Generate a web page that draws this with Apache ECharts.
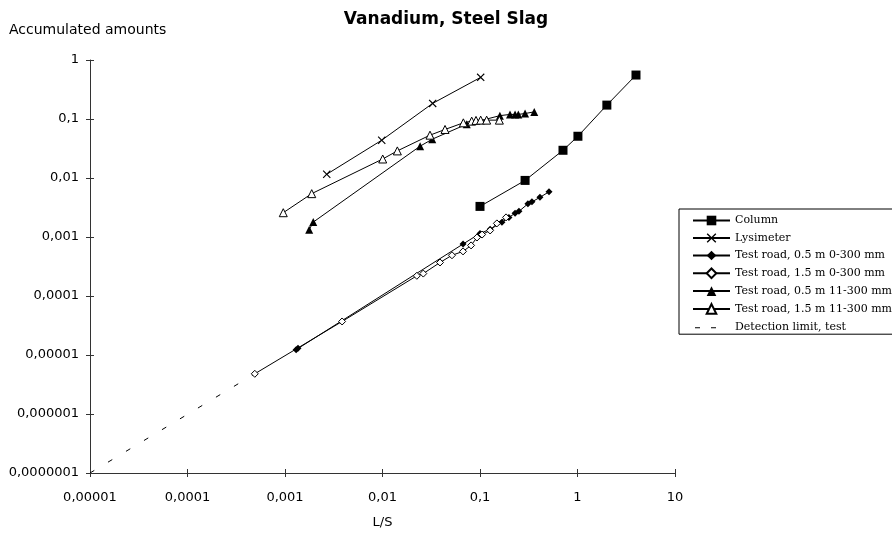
<!DOCTYPE html>
<html>
<head>
<meta charset="utf-8">
<script src="https://cdn.jsdelivr.net/npm/echarts@6/dist/echarts.min.js"></script>
<style>html,body{margin:0;padding:0;background:#fff;}#c{width:892px;height:534px;}</style>
</head>
<body>
<div id="c"></div>
<script>
const xTickLabels = ['0,00001','0,0001','0,001','0,01','0,1','1','10'];
const yTickLabels = ['0,0000001','0,000001','0,00001','0,0001','0,001','0,01','0,1','1'];

const seriesNames = ['Column','Lysimeter','Test road, 0.5 m 0-300 mm','Test road, 1.5 m 0-300 mm','Test road, 0.5 m 11-300 mm','Test road, 1.5 m 11-300 mm','Detection limit, test'];

const columnX = [0.1, 0.29, 0.71, 1.01, 2.0, 3.98];
const columnY = [0.0033, 0.0091, 0.0295, 0.051, 0.172, 0.556];

const lysX = [0.00268, 0.00982, 0.0327, 0.1016];
const lysY = [0.01156, 0.0437, 0.184, 0.508];

const road05aX = [0.0013, 0.00136, 0.067, 0.1, 0.127, 0.168, 0.198, 0.229, 0.251, 0.31, 0.341, 0.412, 0.51];
const road05aY = [1.23e-5, 1.3e-5, 7.6e-4, 1.15e-3, 1.35e-3, 1.77e-3, 2.15e-3, 2.52e-3, 2.72e-3, 3.65e-3, 3.94e-3, 4.7e-3, 5.83e-3];

const road15aX = [0.00049, 0.00385, 0.0225, 0.0262, 0.0389, 0.0516, 0.067, 0.081, 0.093, 0.105, 0.127, 0.149, 0.185];
const road15aY = [4.8e-6, 3.7e-5, 2.2e-4, 2.4e-4, 3.7e-4, 4.9e-4, 5.7e-4, 7.2e-4, 9.8e-4, 1.1e-3, 1.29e-3, 1.7e-3, 2.15e-3];

const road05bX = [0.00177, 0.00195, 0.0243, 0.0324, 0.0731, 0.16, 0.203, 0.229, 0.247, 0.29, 0.36];
const road05bY = [0.00133, 0.00179, 0.0346, 0.0455, 0.0818, 0.114, 0.1195, 0.1195, 0.1195, 0.124, 0.132];

const road15bX = [0.00096, 0.00188, 0.01005, 0.0142, 0.0307, 0.0438, 0.0675, 0.0822, 0.091, 0.1016, 0.117, 0.158];
const road15bY = [0.00258, 0.00543, 0.021, 0.0288, 0.0532, 0.0665, 0.0861, 0.092, 0.0946, 0.0957, 0.0957, 0.0957];

const detX = [0.00001, 0.00049];
const detY = [1e-7, 4.8e-6];

function zip(a, b) { return a.map((v, i) => [v, b[i]]); }

const xSym = 'path://M0,1L1,0L5,4L9,0L10,1L6,5L10,9L9,10L5,6L1,10L0,9L4,5Z';
const dashIcon = 'path://M0,0L0.01,0L0.01,0.01Z M37,12L36.99,12L36.99,11.99Z M2,6L7,6L7,7L2,7Z M18,6L23,6L23,7L18,7Z';

const chart = echarts.init(document.getElementById('c'), null, {renderer: 'canvas'});
const axisFont = {fontFamily: 'DejaVu Sans', fontSize: 13, color: '#000'};
const lineBase = {color: '#000', width: 1};

function mkSeries(name, xs, ys, symbol, size, filled) {
  return {
    name: name, type: 'line', xAxisIndex: 0, yAxisIndex: 0,
    data: zip(xs, ys),
    symbol: symbol, symbolSize: size, showSymbol: true,
    lineStyle: lineBase,
    itemStyle: filled ? {color: '#000'} : {color: '#fff', borderColor: '#000', borderWidth: 1},
    emphasis: {disabled: true},
    animation: false
  };
}

const xAxisBase = {
  type: 'log', logBase: 10, min: 0.00001, max: 10, gridIndex: 0,
  splitLine: {show: false}, minorTick: {show: false}
};
const yAxisBase = {
  type: 'log', logBase: 10, min: 1e-7, max: 1, gridIndex: 0,
  splitLine: {show: false}, minorTick: {show: false}
};

chart.setOption({
  animation: false,
  backgroundColor: '#fff',
  title: {
    text: 'Vanadium, Steel Slag', left: 'center', top: 6,
    textStyle: {fontFamily: 'DejaVu Sans', fontWeight: 'bold', fontSize: 17, color: '#000'}
  },
  graphic: [{
    type: 'text', left: 9, top: 23,
    style: {text: 'Accumulated amounts', fontFamily: 'DejaVu Sans', fontSize: 14, fill: '#000'}
  }],
  grid: {left: 90, right: 217, top: 60, bottom: 61, containLabel: false},
  xAxis: [
    Object.assign({}, xAxisBase, {
      position: 'bottom',
      name: 'L/S', nameLocation: 'middle', nameGap: 43,
      nameTextStyle: {fontFamily: 'DejaVu Sans', fontSize: 13, color: '#000'},
      axisLine: {show: true, onZero: false, lineStyle: {color: '#333', width: 1}},
      axisTick: {show: true, inside: false, length: 4, lineStyle: {color: '#333'}},
      axisLabel: Object.assign({margin: 18, formatter: v => xTickLabels[Math.round(Math.log10(v)) + 5]}, axisFont)
    }),
    Object.assign({}, xAxisBase, {
      position: 'bottom',
      axisLine: {show: false},
      axisTick: {show: true, inside: true, length: 4, lineStyle: {color: '#333'}},
      axisLabel: {show: false}
    })
  ],
  yAxis: [
    Object.assign({}, yAxisBase, {
      position: 'left',
      axisLine: {show: true, onZero: false, lineStyle: {color: '#333', width: 1}},
      axisTick: {show: true, inside: false, length: 4, lineStyle: {color: '#333'}},
      axisLabel: Object.assign({margin: 11, formatter: v => yTickLabels[Math.round(Math.log10(v)) + 7]}, axisFont)
    }),
    Object.assign({}, yAxisBase, {
      position: 'left',
      axisLine: {show: false},
      axisTick: {show: true, inside: true, length: 4, lineStyle: {color: '#333'}},
      axisLabel: {show: false}
    })
  ],
  legend: {
    orient: 'vertical', left: 679, top: 209,
    padding: [6, 4, 1, 13],
    itemWidth: 37, itemHeight: 12, itemGap: 6.5,
    borderColor: '#000', borderWidth: 1,
    backgroundColor: '#fff',
    selectedMode: false,
    data: seriesNames.slice(0, 6).concat([{name: seriesNames[6], icon: dashIcon, itemStyle: {color: '#000'}}]),
    textStyle: {fontFamily: 'DejaVu Serif', fontSize: 11, color: '#000'}
  },
  series: [
    mkSeries(seriesNames[0], columnX, columnY, 'rect', 9, true),
    mkSeries(seriesNames[1], lysX, lysY, xSym, 8, true),
    mkSeries(seriesNames[2], road05aX, road05aY, 'diamond', 7, true),
    mkSeries(seriesNames[3], road15aX, road15aY, 'diamond', 7, false),
    mkSeries(seriesNames[4], road05bX, road05bY, 'triangle', 8, true),
    mkSeries(seriesNames[5], road15bX, road15bY, 'triangle', 8, false),
    {
      name: seriesNames[6], type: 'line', data: zip(detX, detY),
      symbol: 'none', lineStyle: {color: '#000', width: 1, type: [5, 16]},
      itemStyle: {color: '#000'},
      emphasis: {disabled: true}, animation: false
    }
  ]
});
</script>
</body>
</html>
